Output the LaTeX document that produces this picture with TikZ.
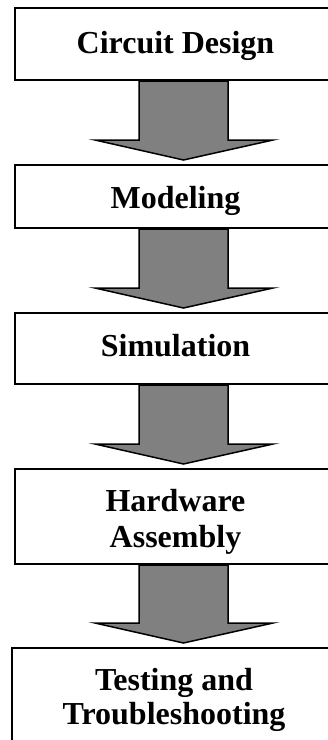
\documentclass[tikz,border=0pt]{standalone}
\usepackage{fontspec}
\setmainfont{Liberation Serif}
\usetikzlibrary{calc}
\tikzset{
  stage/.style={draw,line width=2pt,fill=white,anchor=north west,minimum width=321pt,
    align=center,inner sep=0,font=\fontsize{32}{35}\selectfont\bfseries},
  flow/.style={draw=black,line width=1.5pt,fill=gray,line join=miter}
}
\begin{document}
\begin{tikzpicture}[x=1pt,y=-1pt]
    \useasboundingbox (0,0) rectangle (328,740);
    \clip (0,0) rectangle (328,740);
    % Stages
    \node[stage,text height=45pt,text depth=27pt] (S1) at (14,7)   {Circuit Design};
    \node[stage,text height=43pt,text depth=20pt] (S2) at (14,164) {Modeling};
    \node[stage,text height=43pt,text depth=28pt] (S3) at (14,312) {Simulation};
    \node[stage,text height=78pt,text depth=17pt] (S4) at (14,468) {Hardware\\[1pt]Assembly};
    \node[stage,text height=76pt,text depth=37pt,minimum width=324pt] (S5) at (11,647) {Testing and\\[-1pt]Troubleshooting};
    % Block arrows
    \foreach \a/\b in {S1/S2,S2/S3,S3/S4,S4/S5}
      \draw[flow] let \p1=($(\a.south)+(8,0)$), \p2=(\b.north) in
        (\x1-44.5pt,\y1) -- (\x1-44.5pt,\y2+24pt) -- (\x1-88.5pt,\y2+24pt)
        -- (\x1,\y2+4pt) -- (\x1+89.5pt,\y2+24pt) -- (\x1+44.5pt,\y2+24pt)
        -- (\x1+44.5pt,\y1) -- cycle;
  \end{tikzpicture}
\end{document}
